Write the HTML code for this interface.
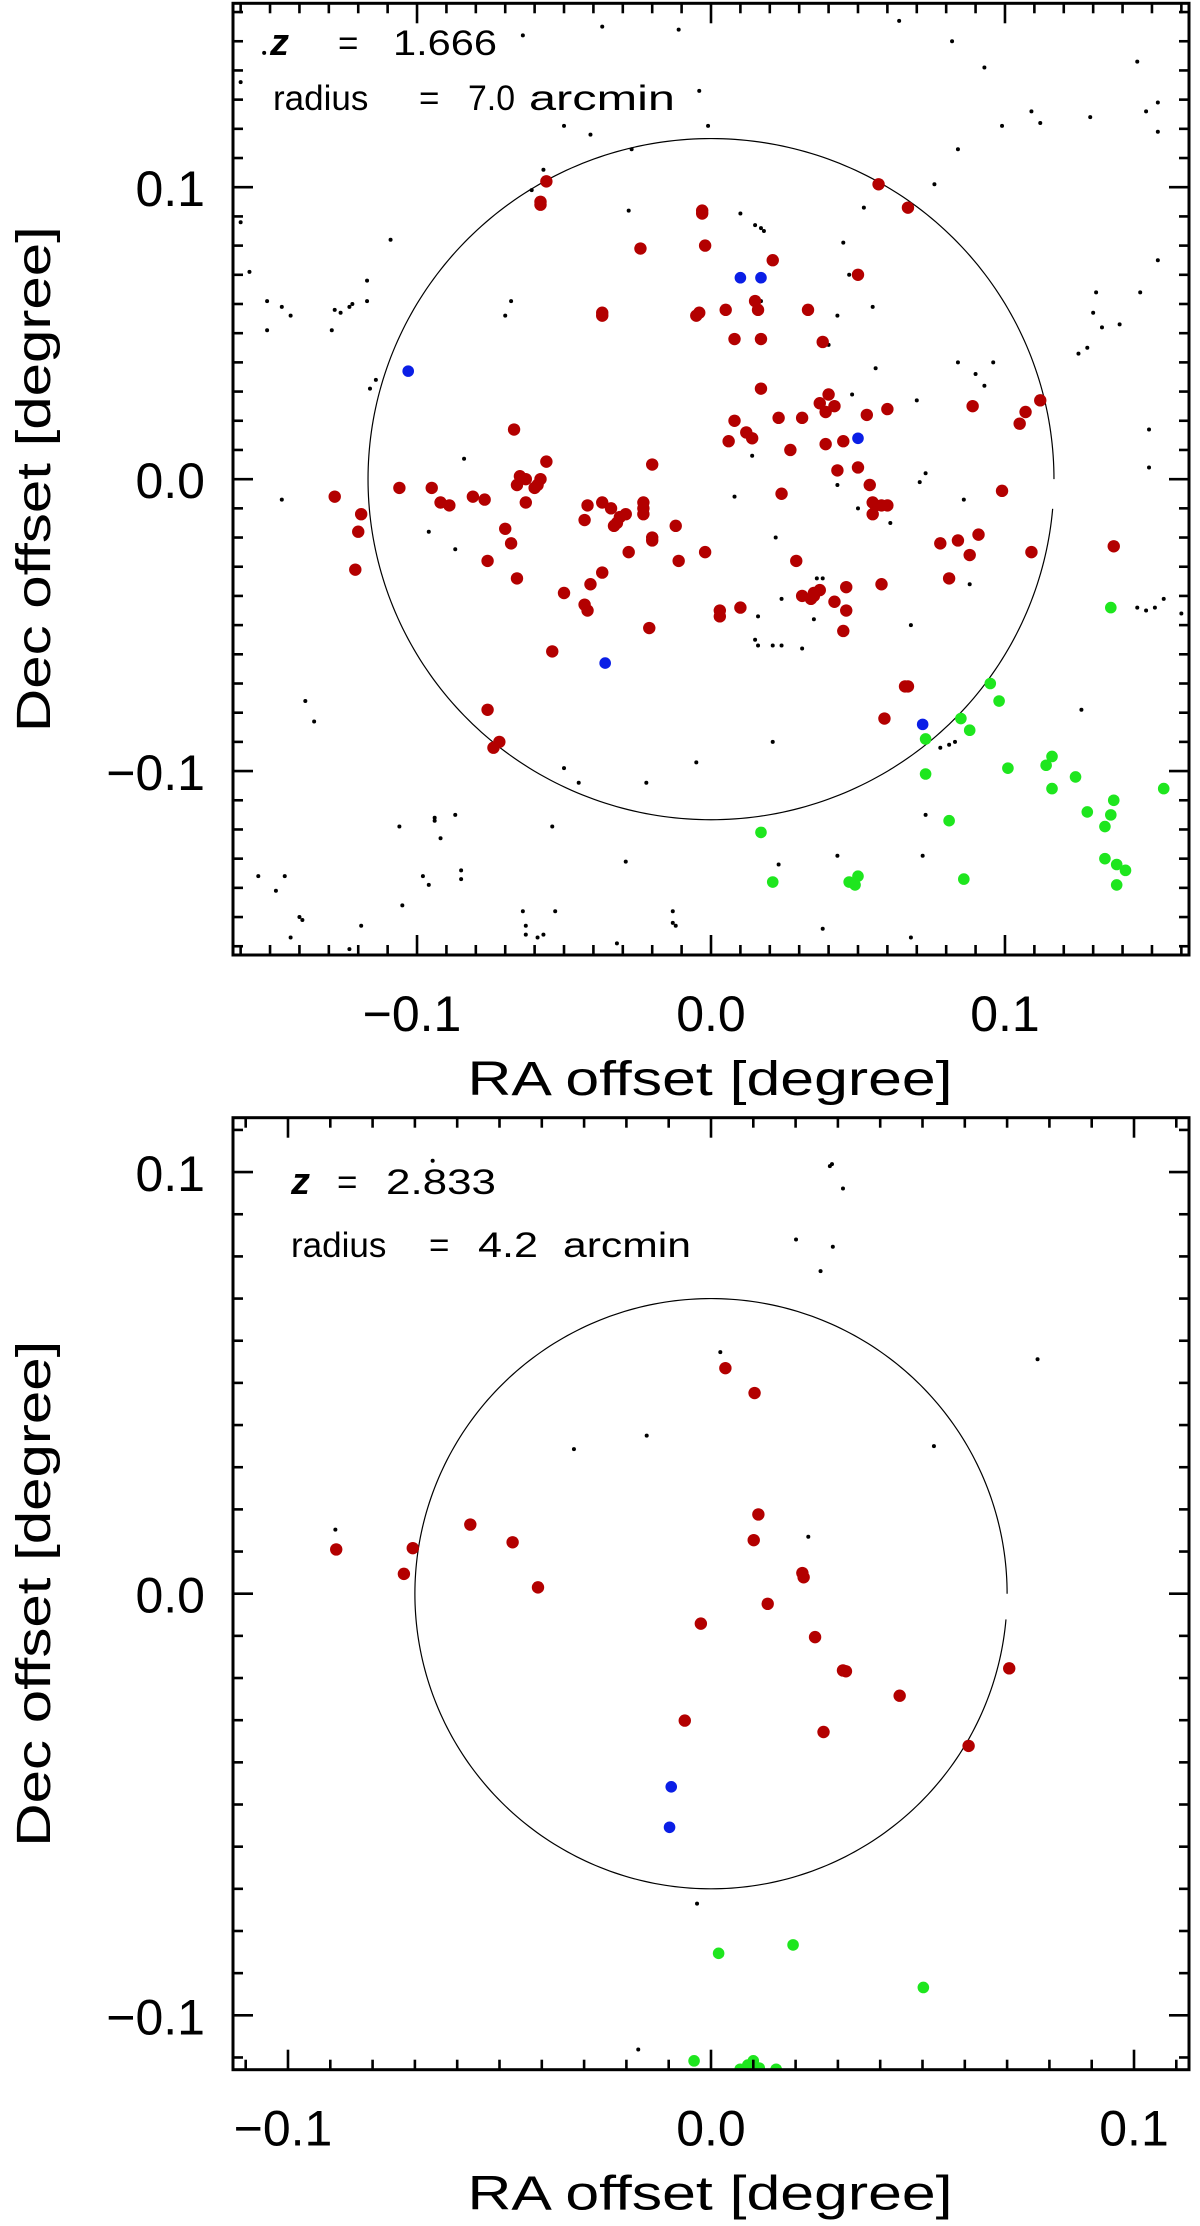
<!DOCTYPE html>
<html><head><meta charset="utf-8"><style>
html,body{margin:0;padding:0;background:#fff;}
svg{display:block;}
text{font-family:"Liberation Sans",sans-serif;fill:#000;}
</style></head>
<body>
<svg id="fig" xmlns="http://www.w3.org/2000/svg" width="1200" height="2226" viewBox="0 0 1200 2226">
<rect width="1200" height="2226" fill="#fff"/>
<defs>
<clipPath id="clip-top"><rect x="233" y="3.3" width="956" height="951.7"/></clipPath>
<clipPath id="clip-bot"><rect x="233" y="1117.7" width="956" height="952"/></clipPath>
</defs>
<g id="top-panel"></g>
<g id="bot-panel"></g>
</svg>
<script>
// ---------- top panel data (z = 1.666) ----------
const topRadius = 7.0 / 60;
const topRed = [[-0.056,0.102],[-0.058,0.095],[-0.058,0.094],[-0.003,0.092],[-0.003,0.091],[-0.024,0.079],[-0.002,0.080],[0.057,0.101],[0.067,0.093],[0.021,0.075],[0.050,0.070],[-0.037,0.057],[-0.037,0.056],[-0.005,0.056],[-0.004,0.057],[0.005,0.058],[0.015,0.061],[0.016,0.058],[0.033,0.058],[0.008,0.048],[0.017,0.048],[0.038,0.047],[0.017,0.031],[0.040,0.029],[0.037,0.026],[0.042,0.025],[0.039,0.023],[0.053,0.022],[0.060,0.024],[0.023,0.021],[0.031,0.021],[0.008,0.020],[0.012,0.016],[0.014,0.014],[0.006,0.013],[0.039,0.012],[0.045,0.013],[0.027,0.010],[0.050,0.004],[0.043,0.003],[0.054,-0.002],[0.024,-0.005],[0.055,-0.008],[0.056,-0.009],[0.060,-0.009],[0.058,-0.009],[0.055,-0.012],[0.112,0.027],[0.107,0.023],[0.105,0.019],[0.089,0.025],[0.099,-0.004],[0.078,-0.022],[0.084,-0.021],[0.091,-0.019],[0.088,-0.026],[0.109,-0.025],[0.137,-0.023],[0.081,-0.034],[0.058,-0.036],[0.029,-0.028],[0.046,-0.037],[0.031,-0.040],[0.034,-0.041],[0.035,-0.039],[0.037,-0.038],[0.035,-0.040],[0.042,-0.042],[0.046,-0.045],[0.045,-0.052],[-0.002,-0.025],[-0.011,-0.028],[-0.012,-0.016],[-0.020,0.005],[-0.023,-0.008],[-0.023,-0.010],[-0.023,-0.012],[-0.020,-0.020],[-0.020,-0.021],[-0.028,-0.025],[-0.021,-0.051],[0.010,-0.044],[0.003,-0.045],[0.003,-0.047],[-0.037,-0.008],[-0.042,-0.009],[-0.043,-0.014],[-0.034,-0.010],[-0.033,-0.016],[-0.031,-0.013],[-0.029,-0.012],[-0.032,-0.015],[-0.037,-0.032],[-0.041,-0.036],[-0.050,-0.039],[-0.043,-0.043],[-0.042,-0.045],[-0.054,-0.059],[-0.067,0.017],[-0.056,0.006],[-0.065,0.001],[-0.066,-0.002],[-0.063,0.000],[-0.060,-0.003],[-0.058,0.000],[-0.059,-0.002],[-0.063,-0.008],[-0.070,-0.017],[-0.068,-0.022],[-0.076,-0.028],[-0.066,-0.034],[-0.076,-0.079],[-0.074,-0.092],[-0.072,-0.090],[-0.081,-0.006],[-0.077,-0.007],[-0.095,-0.003],[-0.092,-0.008],[-0.089,-0.009],[-0.106,-0.003],[-0.128,-0.006],[-0.119,-0.012],[-0.120,-0.018],[-0.121,-0.031],[0.067,-0.071],[0.066,-0.071],[0.059,-0.082]];
const topBlue = [[0.010,0.069],[0.017,0.069],[-0.103,0.037],[0.050,0.014],[-0.036,-0.063],[0.072,-0.084]];
const topGreen = [[0.136,-0.044],[0.095,-0.070],[0.098,-0.076],[0.085,-0.082],[0.088,-0.086],[0.073,-0.089],[0.073,-0.101],[0.101,-0.099],[0.116,-0.095],[0.114,-0.098],[0.116,-0.106],[0.124,-0.102],[0.128,-0.114],[0.137,-0.110],[0.136,-0.115],[0.134,-0.119],[0.154,-0.106],[0.081,-0.117],[0.017,-0.121],[0.021,-0.138],[0.047,-0.138],[0.049,-0.139],[0.050,-0.136],[0.086,-0.137],[0.134,-0.130],[0.138,-0.132],[0.141,-0.134],[0.138,-0.139]];
const topBlack = [[-0.152,0.146],[-0.064,0.152],[-0.037,0.155],[-0.011,0.154],[0.064,0.157],[0.082,0.150],[0.093,0.141],[0.145,0.143],[-0.160,0.136],[-0.004,0.133],[-0.001,0.121],[-0.050,0.121],[-0.041,0.118],[0.099,0.121],[0.109,0.126],[0.112,0.122],[0.129,0.124],[0.148,0.126],[0.152,0.129],[0.152,0.119],[0.084,0.113],[-0.027,0.113],[0.076,0.101],[-0.057,0.106],[-0.061,0.099],[0.052,0.093],[-0.028,0.092],[0.010,0.091],[0.015,0.087],[0.017,0.086],[0.018,0.085],[0.045,0.081],[-0.160,0.088],[-0.109,0.082],[-0.157,0.071],[0.152,0.075],[-0.151,0.061],[-0.146,0.059],[-0.143,0.056],[-0.128,0.058],[-0.126,0.057],[-0.123,0.059],[-0.122,0.060],[-0.117,0.061],[-0.117,0.068],[-0.129,0.051],[-0.151,0.051],[-0.070,0.056],[-0.068,0.061],[0.017,0.061],[0.047,0.070],[0.055,0.059],[0.043,0.056],[0.131,0.064],[0.146,0.064],[0.130,0.057],[0.133,0.052],[0.139,0.053],[0.040,0.046],[0.125,0.043],[0.128,0.045],[0.084,0.040],[0.096,0.040],[0.090,0.036],[0.093,0.032],[0.056,0.038],[-0.114,0.034],[-0.116,0.031],[0.070,0.027],[0.048,0.029],[0.149,0.017],[0.149,0.004],[0.014,0.008],[0.008,-0.006],[-0.084,0.007],[0.073,0.002],[0.071,-0.001],[0.043,-0.002],[0.050,-0.010],[0.086,-0.007],[0.061,-0.015],[0.022,-0.020],[-0.146,-0.007],[-0.096,-0.018],[-0.087,-0.024],[0.088,-0.036],[0.024,-0.041],[0.036,-0.034],[0.038,-0.034],[0.035,-0.048],[0.016,-0.047],[0.015,-0.055],[0.016,-0.057],[0.021,-0.057],[0.024,-0.057],[0.031,-0.058],[0.068,-0.050],[0.145,-0.044],[0.148,-0.045],[0.151,-0.044],[0.154,-0.041],[0.160,-0.046],[0.081,-0.091],[0.078,-0.092],[0.083,-0.090],[0.021,-0.090],[-0.138,-0.076],[-0.135,-0.083],[-0.005,-0.097],[-0.050,-0.099],[-0.045,-0.104],[-0.022,-0.104],[0.073,-0.115],[0.126,-0.079],[-0.054,-0.119],[-0.094,-0.116],[-0.094,-0.117],[-0.087,-0.115],[-0.106,-0.119],[-0.092,-0.123],[-0.154,-0.136],[-0.145,-0.136],[-0.148,-0.141],[-0.098,-0.136],[-0.096,-0.139],[-0.085,-0.134],[-0.085,-0.137],[-0.029,-0.131],[0.043,-0.129],[0.023,-0.132],[0.072,-0.129],[-0.105,-0.146],[-0.140,-0.150],[-0.139,-0.151],[-0.119,-0.153],[-0.143,-0.157],[-0.064,-0.148],[-0.063,-0.153],[-0.063,-0.156],[-0.059,-0.157],[-0.057,-0.156],[-0.053,-0.148],[-0.013,-0.148],[-0.013,-0.152],[-0.012,-0.153],[-0.032,-0.159],[0.038,-0.154],[0.068,-0.157],[-0.123,-0.161]];
const topTicks = [-0.1, 0.0, 0.1];
const topTickLabels = ["\u22120.1", "0.0", "0.1"];

// ---------- bottom panel data (z = 2.833) ----------
const botRadius = 4.2 / 60;
const botRed = [[0.0034,0.0535],[0.0103,0.0476],[0.0112,0.0188],[0.0101,0.0127],[-0.0569,0.0164],[-0.0469,0.0122],[-0.0705,0.0108],[-0.0886,0.0105],[-0.0726,0.0047],[-0.0409,0.0015],[0.0216,0.0049],[0.0219,0.0039],[0.0134,-0.0024],[-0.0024,-0.0071],[0.0246,-0.0103],[0.0312,-0.0182],[0.0319,-0.0184],[0.0446,-0.0242],[0.0705,-0.0177],[-0.0062,-0.0301],[0.0266,-0.0328],[0.0609,-0.0361]];
const botBlue = [[-0.0094,-0.0458],[-0.0098,-0.0554]];
const botGreen = [[0.0018,-0.0853],[0.0194,-0.0833],[0.0502,-0.0934],[-0.0040,-0.1108],[0.0100,-0.1108],[0.0087,-0.1118],[0.0114,-0.1125],[0.0069,-0.1128],[0.0154,-0.1128]];
const botBlack = [[0.0281,0.1014],[0.0286,0.1019],[0.0312,0.0961],[-0.0658,0.1027],[0.0201,0.0840],[0.0288,0.0823],[0.0259,0.0765],[0.0022,0.0573],[0.0772,0.0556],[-0.0152,0.0375],[-0.0324,0.0343],[0.0527,0.0350],[-0.0888,0.0152],[0.0230,0.0135],[-0.0033,-0.0735],[-0.0172,-0.1081],[0.0470,-0.1132]];
const botTicks = [-0.1, 0.0, 0.1];
const botTickLabels = ["\u22120.1", "0.0", "0.1"];

const NS = "http://www.w3.org/2000/svg";
function mk(tag, attrs, parent) {
  const e = document.createElementNS(NS, tag);
  for (const k in attrs) e.setAttribute(k, attrs[k]);
  parent.appendChild(e);
  return e;
}

const panels = [
  {g: document.getElementById('top-panel'), clip: 'clip-top', x0: 233, x1: 1189, xmin: -0.1626, xmax: 0.1626, y0: 3.3, y1: 955, ymin: -0.163, ymax: 0.163,
   red: topRed, blue: topBlue, green: topGreen, black: topBlack, radius: topRadius, ticks: topTicks, labels: topTickLabels,
   zText: "1.666", rText: "7.0", zX: 270, zEqX: 338, zValX: 393, zValW: 104, zBase: 55, rX: 273, rEqX: 419, rValX: 468, rValW: 47, rUnitX: 529, rUnitW: 146, rBase: 110},
  {g: document.getElementById('bot-panel'), clip: 'clip-bot', x0: 233, x1: 1189, xmin: -0.113, xmax: 0.113, y0: 1117.7, y1: 2069.7, ymin: -0.1129, ymax: 0.1129,
   red: botRed, blue: botBlue, green: botGreen, black: botBlack, radius: botRadius, ticks: botTicks, labels: botTickLabels,
   zText: "2.833", rText: "4.2", zX: 291, zEqX: 337, zValX: 386, zValW: 110, zBase: 1194, rX: 291, rEqX: 429, rValX: 478, rValW: 60, rUnitX: 563, rUnitW: 128, rBase: 1257}
];

panels.forEach((p, pi) => {
  const X = v => p.x0 + (v - p.xmin) / (p.xmax - p.xmin) * (p.x1 - p.x0);
  const Y = v => p.y1 - (v - p.ymin) / (p.ymax - p.ymin) * (p.y1 - p.y0);
  const g = p.g;
  const marks = mk('g', {'clip-path': 'url(#' + p.clip + ')'}, g);
  
  

  let d = '';
  for (let i = 0; i <= 355; i += 1) {
    const t = i * Math.PI / 180;
    d += (i ? 'L' : 'M') + X(p.radius * Math.cos(t)).toFixed(2) + ',' + Y(p.radius * Math.sin(t)).toFixed(2);
  }
  const circ = mk('path', {d: d, fill: 'none', stroke: '#000', 'stroke-width': 1.2}, marks);
  
  

  p.black.forEach(pt => {
    const c = mk('circle', {cx: X(pt[0]), cy: Y(pt[1]), r: 2, fill: '#000'}, marks);
    
    
  });
  p.red.forEach(pt => {
    const c = mk('circle', {cx: X(pt[0]), cy: Y(pt[1]), r: 6.2, fill: '#b30000'}, marks);
    
    
  });
  p.blue.forEach(pt => {
    const c = mk('circle', {cx: X(pt[0]), cy: Y(pt[1]), r: 5.8, fill: '#0a1ee6'}, marks);
    
    
  });
  p.green.forEach(pt => {
    const c = mk('circle', {cx: X(pt[0]), cy: Y(pt[1]), r: 5.8, fill: '#1ee61e'}, marks);
    
    
  });

  const tg = mk('g', {stroke: '#000', 'stroke-width': 2.6}, g);
  
  
  const nx0 = Math.ceil(p.xmin * 100 - 1e-6), nx1 = Math.floor(p.xmax * 100 + 1e-6);
  for (let n = nx0; n <= nx1; n++) {
    const L = (n % 10 === 0) ? 20 : 10;
    const x = X(n / 100);
    mk('line', {x1: x, y1: p.y1, x2: x, y2: p.y1 - L}, tg);
    mk('line', {x1: x, y1: p.y0, x2: x, y2: p.y0 + L}, tg);
  }
  const ny0 = Math.ceil(p.ymin * 100 - 1e-6), ny1 = Math.floor(p.ymax * 100 + 1e-6);
  for (let n = ny0; n <= ny1; n++) {
    const L = (n % 10 === 0) ? 20 : 10;
    const y = Y(n / 100);
    mk('line', {x1: p.x0, y1: y, x2: p.x0 + L, y2: y}, tg);
    mk('line', {x1: p.x1, y1: y, x2: p.x1 - L, y2: y}, tg);
  }
  const frame = mk('rect', {x: p.x0, y: p.y0, width: p.x1 - p.x0, height: p.y1 - p.y0, fill: 'none', stroke: '#000', 'stroke-width': 3}, g);
  
  

  p.ticks.forEach((v, i) => {
    const tx = mk('text', {x: X(v) - (v < 0 ? 5 : 0), y: p.y1 + 76, 'font-size': 50, 'text-anchor': 'middle'}, g);
    tx.textContent = p.labels[i];
    
    
    const ty = mk('text', {x: 205, y: Y(v) + 19, 'font-size': 50, 'text-anchor': 'end'}, g);
    ty.textContent = p.labels[i];
    
    
  });

  const xt = mk('text', {x: (p.x0 + p.x1) / 2 - 1, y: p.y1 + 140, 'font-size': 48, 'text-anchor': 'middle', textLength: 485, lengthAdjust: 'spacingAndGlyphs'}, g);
  xt.textContent = 'RA offset [degree]';
  
  
  const cy = (p.y0 + p.y1) / 2;
  const yt = mk('text', {x: 0, y: 0, 'font-size': 48, 'text-anchor': 'middle', textLength: 506, lengthAdjust: 'spacingAndGlyphs', transform: 'translate(50,' + cy + ') rotate(-90)'}, g);
  yt.textContent = 'Dec offset [degree]';
  
  

  const zl = mk('text', {x: p.zX, y: p.zBase, 'font-size': 38, 'font-family': '"Liberation Serif", serif', 'font-style': 'italic', 'font-weight': 'bold'}, g);
  zl.textContent = 'z';
  
  
  const ze = mk('text', {x: p.zEqX, y: p.zBase, 'font-size': 35}, g);
  ze.textContent = '=';
  
  
  const zv = mk('text', {x: p.zValX, y: p.zBase, 'font-size': 35, textLength: p.zValW, lengthAdjust: 'spacingAndGlyphs'}, g);
  zv.textContent = p.zText;
  
  
  const r1 = mk('text', {x: p.rX, y: p.rBase, 'font-size': 35}, g);
  r1.textContent = 'radius';
  
  
  const r2 = mk('text', {x: p.rEqX, y: p.rBase, 'font-size': 35}, g);
  r2.textContent = '=';
  
  
  const r3 = mk('text', {x: p.rValX, y: p.rBase, 'font-size': 35, textLength: p.rValW, lengthAdjust: 'spacingAndGlyphs'}, g);
  r3.textContent = p.rText;
  
  
  const r4 = mk('text', {x: p.rUnitX, y: p.rBase, 'font-size': 35, textLength: p.rUnitW, lengthAdjust: 'spacingAndGlyphs'}, g);
  r4.textContent = 'arcmin';
  
  
});
</script>
</body></html>
